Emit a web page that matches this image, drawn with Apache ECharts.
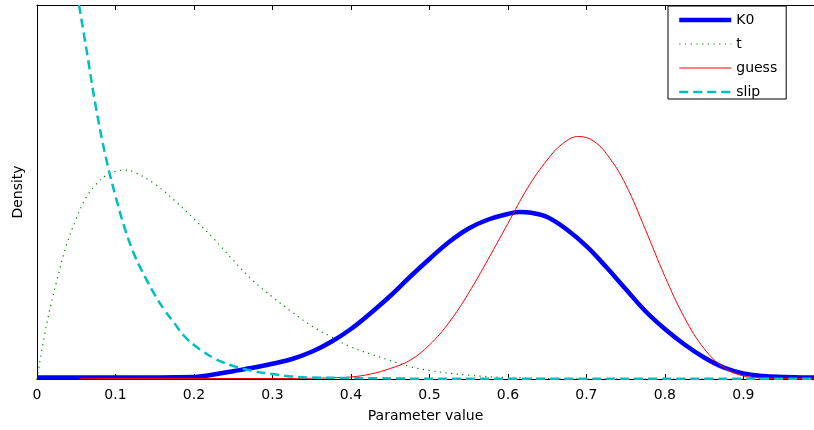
<!DOCTYPE html>
<html>
<head>
<meta charset="utf-8">
<script src="https://cdn.jsdelivr.net/npm/echarts@6/dist/echarts.min.js"></script>
<style>
  html, body { margin: 0; padding: 0; background: #fff; }
  #main { width: 814px; height: 430px; }
</style>
</head>
<body>
<div id="main"></div>
<script>
// x ticks
var xTicks = [0, 0.1, 0.2, 0.3, 0.4, 0.5, 0.6, 0.7, 0.8, 0.9];

// K0
var k0X = [0, 0.1, 0.2, 0.225, 0.25, 0.275, 0.3, 0.325, 0.35, 0.375, 0.4, 0.425, 0.45, 0.475, 0.5, 0.525, 0.55, 0.575, 0.6, 0.615, 0.63, 0.65, 0.675, 0.7, 0.725, 0.75, 0.775, 0.8, 0.825, 0.85, 0.875, 0.9, 0.925, 0.95, 0.975, 0.99];
var k0Y = [0.015, 0.015, 0.02, 0.045, 0.078, 0.112, 0.153, 0.2, 0.272, 0.372, 0.5, 0.658, 0.83, 1.02, 1.2, 1.37, 1.505, 1.595, 1.65, 1.67, 1.662, 1.62, 1.495, 1.328, 1.122, 0.9, 0.68, 0.5, 0.345, 0.215, 0.115, 0.056, 0.03, 0.02, 0.015, 0.015];

// t
var tX = [0, 0.0125, 0.025, 0.0375, 0.05, 0.0625, 0.075, 0.0875, 0.1, 0.1125, 0.125, 0.15, 0.175, 0.2, 0.225, 0.25, 0.275, 0.3, 0.325, 0.35, 0.375, 0.4, 0.425, 0.45, 0.475, 0.5, 0.55, 0.6, 0.65, 0.7, 0.99];
var tY = [0, 0.555, 0.975, 1.34, 1.6, 1.814, 1.944, 2.035, 2.075, 2.09, 2.065, 1.95, 1.787, 1.6, 1.405, 1.188, 0.985, 0.82, 0.67, 0.53, 0.42, 0.32, 0.25, 0.185, 0.125, 0.085, 0.038, 0.015, 0.005, 0, 0];

// guess
var guessX = [0.054, 0.3, 0.35, 0.375, 0.4, 0.425, 0.45, 0.475, 0.5, 0.525, 0.55, 0.575, 0.6, 0.625, 0.65, 0.67, 0.69, 0.71, 0.73, 0.75, 0.775, 0.8, 0.825, 0.85, 0.875, 0.9, 0.925, 0.95, 0.99];
var guessY = [0.005, 0.005, 0.007, 0.012, 0.02, 0.05, 0.105, 0.186, 0.34, 0.565, 0.86, 1.2, 1.555, 1.909, 2.19, 2.355, 2.425, 2.375, 2.205, 1.946, 1.498, 1.026, 0.613, 0.304, 0.116, 0.03, 0.01, 0.005, 0.005];

// slip
var slipX = [0.0535, 0.0625, 0.075, 0.0875, 0.1, 0.1125, 0.125, 0.1375, 0.15, 0.1625, 0.175, 0.1875, 0.2, 0.2125, 0.225, 0.2375, 0.25, 0.275, 0.3, 0.325, 0.35, 0.4, 0.5, 0.99];
var slipY = [3.74, 3.32, 2.72, 2.225, 1.83, 1.49, 1.224, 1.024, 0.843, 0.69, 0.558, 0.43, 0.34, 0.27, 0.21, 0.165, 0.13, 0.08, 0.05, 0.025, 0.015, 0.01, 0.003, 0.003];

function pairs(xs, ys) {
    var out = [];
    for (var i = 0; i < xs.length; i++) out.push([xs[i], ys[i]]);
    return out;
}

var font = 'DejaVu Sans';

var xCommon = {
    type: 'value',
    min: 0,
    max: 0.99,
    interval: 0.1,
    splitLine: { show: false },
    axisLine: { show: true, lineStyle: { color: '#000', width: 1 } },
    axisTick: { show: true, inside: true, length: 5, lineStyle: { color: '#000' } }
};

var option = {
    animation: false,
    backgroundColor: '#fff',
    grid: { left: 37, right: 0, top: 5, bottom: 51 },
    legend: {
        orient: 'vertical',
        left: 668,
        top: 6,
        padding: [7, 9, 0, 9],
        itemGap: 10,
        itemWidth: 52,
        itemHeight: 12,
        backgroundColor: '#fff',
        borderColor: '#000',
        borderWidth: 1,
        borderRadius: 0,
        itemStyle: { opacity: 0 },
        textStyle: { fontFamily: font, fontSize: 14, color: '#000' },
        data: [
            { name: 'K0', lineStyle: { width: 4.5 } },
            { name: 't', lineStyle: { width: 1.2 } },
            { name: 'guess', lineStyle: { width: 1 } },
            { name: 'slip', lineStyle: { width: 2.5 } }
        ]
    },
    xAxis: [
        Object.assign({}, xCommon, {
            position: 'bottom',
            name: 'Parameter value',
            nameLocation: 'middle',
            nameGap: 30,
            nameTextStyle: { fontFamily: font, fontSize: 14, color: '#000' },
            axisLabel: {
                fontFamily: font, fontSize: 14, color: '#000', margin: 9,
                showMaxLabel: false,
                formatter: function (v) {
                    return xTicks.indexOf(Math.round(v * 10) / 10) >= 0 ? String(Math.round(v * 10) / 10) : '';
                }
            }
        }),
        Object.assign({}, xCommon, {
            position: 'top',
            axisLabel: { show: false }
        })
    ],
    yAxis: {
        type: 'value',
        min: 0,
        max: 3.74,
        name: 'Density',
        nameLocation: 'middle',
        nameGap: 12,
        nameTextStyle: { fontFamily: font, fontSize: 14, color: '#000' },
        splitLine: { show: false },
        axisLine: { show: true, lineStyle: { color: '#000', width: 1 } },
        axisTick: { show: false },
        axisLabel: { show: false }
    },
    series: [{
        name: 'K0',
        type: 'line',
        data: pairs(k0X, k0Y),
        smooth: 0.4,
        symbol: 'none',
        lineStyle: { color: '#0000ff', width: 4.5 },
        itemStyle: { color: '#0000ff' }
    }, {
        name: 't',
        type: 'line',
        data: pairs(tX, tY),
        smooth: 0.4,
        symbol: 'none',
        lineStyle: { color: '#008000', width: 1.2, type: [1.2, 4.5] },
        itemStyle: { color: '#008000' }
    }, {
        name: 'guess',
        type: 'line',
        data: pairs(guessX, guessY),
        smooth: 0.4,
        symbol: 'none',
        lineStyle: { color: '#ff0000', width: 1 },
        itemStyle: { color: '#ff0000' }
    }, {
        name: 'slip',
        type: 'line',
        data: pairs(slipX, slipY),
        smooth: 0.4,
        symbol: 'none',
        lineStyle: { color: '#00bfbf', width: 2.5, type: [9, 5] },
        itemStyle: { color: '#00bfbf' }
    }]
};

var chart = echarts.init(document.getElementById('main'));
chart.setOption(option);
</script>
</body>
</html>
